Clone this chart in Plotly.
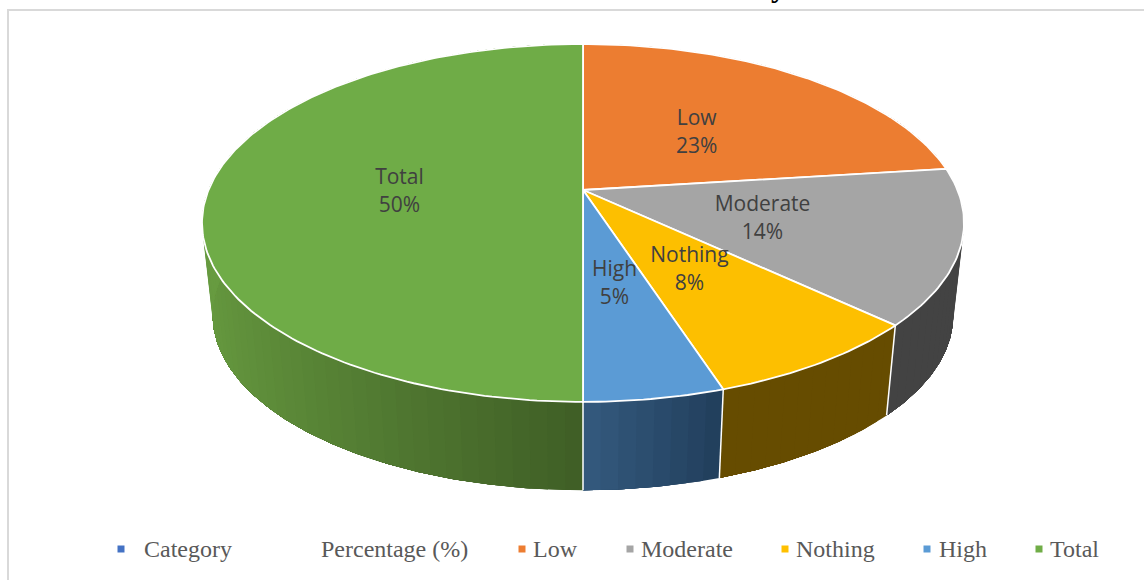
import math
import plotly.graph_objects as go

# Pie values and styling
categories = ["Low", "Moderate", "Nothing", "High", "Total"]
percentages = [23, 14, 8, 5, 50]
top_colors = ["#EC7D31", "#A5A5A5", "#FDBF00", "#5B9BD5", "#6FAC47"]
wall_start = ["#8E4B1D", "#434343", "#664C00", "#213E5B", "#3F5E25"]
wall_end = ["#8E4B1D", "#434343", "#664C00", "#345A7E", "#679B40"]

legend_labels = ["Category", "Percentage (%)", "Low", "Moderate", "Nothing", "High", "Total"]
legend_colors = ["#4472C4", None, "#ED7D31", "#A5A5A5", "#FFC000", "#5B9BD5", "#70AD47"]
legend_marker_x = [121, 310, 522, 630, 785, 927, 1039]
legend_text_x = [144, 321, 533, 641, 796, 939, 1050]

# Perspective disc parameters, in page pixels
CX, CY = 583, 190
RX, RY, K = 374.5, 172.9, 0.184
DROP_CY, SCALE_X, SCALE_Y = 283, 0.972, 0.978
LABEL_R = 0.49


def project(t, r=1.0, lower=False):
    """Map a clockwise angle from 12 o'clock and a radius on the disc to the page."""
    px, py = r * math.sin(t), r * math.cos(t)
    w = 1 + K * py
    if lower:
        return CX + SCALE_X * RX * px / w, DROP_CY - SCALE_Y * RY * py / w
    return CX + RX * px / w, CY - RY * py / w


def mix(c1, c2, f):
    a = [int(c1[i:i + 2], 16) for i in (1, 3, 5)]
    b = [int(c2[i:i + 2], 16) for i in (1, 3, 5)]
    return "rgb({},{},{})".format(*[round(u + (v - u) * f) for u, v in zip(a, b)])


fig = go.Figure()
total = sum(percentages)
edges = [0]
for v in percentages:
    edges.append(edges[-1] + v / total * 2 * math.pi)

# Outer wall: each strip runs on to the slice's far end and the next one paints
# over it, which keeps the shading free of hairline gaps
for i, v in enumerate(percentages):
    a0, a1 = edges[i], edges[i + 1]
    steps = max(1, round(v * 1.6))
    for s in range(steps):
        ta = a0 + (a1 - a0) * s / steps
        f = min(1.0, abs(math.sin(ta - a0 + (a1 - a0) * 0.5 / steps)) /
                abs(math.sin(min(a1 - a0, math.pi / 2))))
        count = max(2, (steps - s) * 4)
        ts = [ta + (a1 - ta) * j / count for j in range(count + 1)]
        upper = [project(t) for t in ts]
        lower = [project(t, lower=True) for t in reversed(ts)]
        pts = upper + lower + [upper[0]]
        col = mix(wall_start[i], wall_end[i], f)
        fig.add_trace(go.Scatter(
            x=[p[0] for p in pts], y=[p[1] for p in pts], mode="lines",
            fill="toself", fillcolor=col, line=dict(color=col, width=0),
            hoverinfo="skip", showlegend=False))

# White seams between neighbouring wall segments
for e in edges[1:]:
    p, q = project(e), project(e, lower=True)
    fig.add_trace(go.Scatter(
        x=[p[0], q[0]], y=[p[1], q[1]], mode="lines",
        line=dict(color="white", width=1.5), hoverinfo="skip", showlegend=False))

# Top face of each slice
for i, name in enumerate(categories):
    a0, a1 = edges[i], edges[i + 1]
    n = max(4, round((a1 - a0) * 60))
    rim = [project(a0 + (a1 - a0) * j / n) for j in range(n + 1)]
    pts = [(CX, CY)] + rim + [(CX, CY)]
    fig.add_trace(go.Scatter(
        x=[p[0] for p in pts], y=[p[1] for p in pts], mode="lines",
        fill="toself", fillcolor=top_colors[i], line=dict(color="white", width=1.8),
        name=name, text=f"{name}: {percentages[i]}%", hoverinfo="text", showlegend=False))

# Slice labels at the middle of each slice
label_pos = [project((edges[i] + edges[i + 1]) / 2, LABEL_R) for i in range(len(categories))]
fig.add_trace(go.Scatter(
    x=[p[0] for p in label_pos], y=[p[1] - 11 for p in label_pos], mode="text",
    text=categories, textposition="middle center",
    textfont=dict(family="Open Sans", size=21, color="#404040"),
    hoverinfo="skip", showlegend=False))
fig.add_trace(go.Scatter(
    x=[p[0] for p in label_pos], y=[p[1] + 17 for p in label_pos], mode="text",
    text=[f"{v}%" for v in percentages], textposition="middle center",
    textfont=dict(family="Open Sans", size=21, color="#404040"),
    hoverinfo="skip", showlegend=False))

# Legend row
LEGEND_Y = 549
for mx, color in zip(legend_marker_x, legend_colors):
    if color:
        fig.add_trace(go.Scatter(
            x=[mx], y=[LEGEND_Y], mode="markers",
            marker=dict(symbol="square", size=7, color=color),
            hoverinfo="skip", showlegend=False))
fig.add_trace(go.Scatter(
    x=legend_text_x, y=[LEGEND_Y + 2] * len(legend_text_x), mode="text",
    text=legend_labels, textposition="middle right",
    textfont=dict(family="Liberation Serif", size=24, color="#595959"),
    hoverinfo="skip", showlegend=False, cliponaxis=False))

fig.update_layout(
    width=1144, height=580, autosize=False,
    margin=dict(l=0, r=0, t=0, b=0),
    paper_bgcolor="white", plot_bgcolor="white",
    xaxis=dict(range=[0, 1144], visible=False, fixedrange=True),
    yaxis=dict(range=[580, 0], visible=False, fixedrange=True),
    shapes=[
        dict(type="line", xref="x", yref="y", x0=8, x1=8, y0=10, y1=580,
             line=dict(color="#D9D9D9", width=2)),
        dict(type="line", xref="x", yref="y", x0=7, x1=1144, y0=10, y1=10,
             line=dict(color="#D9D9D9", width=2)),
    ],
    annotations=[
        dict(text="<b>y</b>", xref="paper", yref="paper", x=778 / 1144, y=1,
             xanchor="center", yanchor="bottom", yshift=-5, showarrow=False,
             font=dict(family="Liberation Serif", size=30, color="black")),
    ],
)
fig.write_html("out.html", config=dict(displayModeBar=False))
